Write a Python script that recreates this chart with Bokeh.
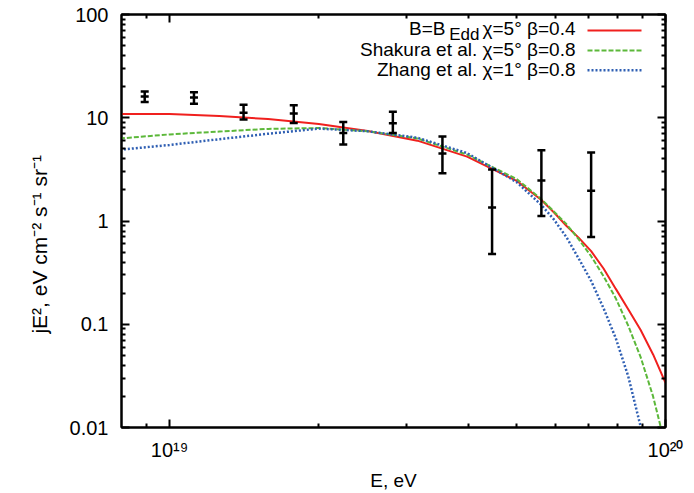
import numpy as np
from bokeh.plotting import figure
from bokeh.models import LogAxis, FixedTicker, CustomJSTickFormatter, Label, Range1d
from bokeh.embed import file_html
from bokeh.resources import INLINE

# ---- data ----
E_data = [8.91e18, 1.12e19, 1.41e19, 1.78e19, 2.24e19, 2.82e19, 3.55e19, 4.47e19, 5.62e19, 7.08e19]
J_data = [16.1, 15.7, 11.2, 11.0, 7.1, 8.85, 4.5, 1.35, 2.47, 1.96]
J_up = [18.0, 17.7, 13.4, 13.2, 9.1, 11.4, 6.6, 3.16, 4.85, 4.6]
J_lo = [14.2, 13.7, 9.6, 8.9, 5.5, 7.1, 2.9, 0.48, 1.12, 0.70]

E_model = [7.94e18, 1.00e19, 1.26e19, 1.58e19, 2.00e19, 2.51e19, 3.16e19, 3.98e19,
           5.01e19, 5.62e19, 5.96e19, 6.31e19, 6.68e19, 7.08e19, 7.50e19, 7.94e19,
           8.41e19, 8.91e19, 9.44e19, 1.00e20]
J_edd = [10.9, 10.9, 10.4, 9.7, 8.7, 7.45, 6.0, 4.2, 2.45, 1.6, 1.21, 0.90, 0.69, 0.51,
         0.347, 0.22, 0.14, 0.088, 0.051, 0.027]
J_shakura = [6.3, 6.9, 7.35, 7.8, 7.95, 7.4, 6.3, 4.4, 2.55, 1.63, 1.23, 0.935, 0.667, 0.456,
             0.292, 0.178, 0.097, 0.048, 0.020, 0.0066]
E_zhang = E_model[:18] + [9.12e19]
J_zhang = [4.9, 5.45, 6.2, 7.0, 7.85, 7.4, 6.4, 4.55, 2.38, 1.43, 1.03, 0.70, 0.435, 0.263,
           0.143, 0.073, 0.0314, 0.0102, 0.0075]

legend_labels = ["Shakura et al. \u03c7=5\u00b0 \u03b2=0.8", "Zhang et al. \u03c7=1\u00b0 \u03b2=0.8"]

x_major = [1e19, 1e20]
x_minor = [9e18] + [m * 1e19 for m in range(2, 10)]
y_major = [0.01, 0.1, 1, 10, 100]
y_minor = [m * d for d in (0.01, 0.1, 1, 10) for m in range(2, 10)]

X0, X1 = 8e18, 1e20
Y0, Y1 = 0.01, 100

# frame geometry (pixels)
W, H = 694, 493
FL, FR, FT, FB = 121, 665, 14, 428

RED = "#f0201e"
GREEN = "#5cb83a"
BLUE = "#2f5fb3"
FONT = "Liberation Sans"


def px2x(px):
    return 10 ** (np.log10(X0) + (px - FL) / (FR - FL) * (np.log10(X1) - np.log10(X0)))


def py2y(py):
    return 10 ** (np.log10(Y1) - (py - FT) / (FB - FT) * (np.log10(Y1) - np.log10(Y0)))


p = figure(width=W, height=H, x_axis_type="log", y_axis_type="log",
           x_range=Range1d(X0, X1), y_range=Range1d(Y0, Y1),
           output_backend="svg", toolbar_location=None,
           min_border_left=FL, min_border_right=W - FR,
           min_border_top=FT, min_border_bottom=H - FB)
p.background_fill_color = "white"
p.border_fill_color = "white"
p.grid.visible = False
p.outline_line_color = "black"
p.outline_line_width = 2

xticker = FixedTicker(ticks=x_major, minor_ticks=x_minor)
yticker = FixedTicker(ticks=y_major, minor_ticks=y_minor)

xfmt = CustomJSTickFormatter(code="""
const e = Math.round(Math.log10(tick));
const sup = {'0':'\u2070','1':'\u00b9','2':'\u00b2','3':'\u00b3','4':'\u2074','5':'\u2075','6':'\u2076','7':'\u2077','8':'\u2078','9':'\u2079','-':'\u207b'};
return '10' + String(e).split('').map(c => sup[c]).join('');
""")
yfmt = CustomJSTickFormatter(code="return String(Number(tick.toPrecision(3)));")
blankfmt = CustomJSTickFormatter(code="return '';")


def style_axis(ax):
    ax.axis_line_color = "black"
    ax.axis_line_width = 2
    ax.major_tick_in = 8
    ax.major_tick_out = 0
    ax.minor_tick_in = 4
    ax.minor_tick_out = 0
    ax.major_tick_line_width = 2
    ax.minor_tick_line_width = 2
    ax.major_tick_line_color = "black"
    ax.minor_tick_line_color = "black"
    ax.major_label_text_font = FONT
    ax.major_label_text_font_size = "20px"
    ax.major_label_text_color = "black"
    ax.axis_label_text_font = FONT
    ax.axis_label_text_font_size = "19px"
    ax.axis_label_text_font_style = "normal"
    ax.axis_label_text_color = "black"


xa = p.xaxis[0]
ya = p.yaxis[0]
xa.ticker = xticker
ya.ticker = yticker
xa.formatter = xfmt
ya.formatter = yfmt
style_axis(xa)
style_axis(ya)
xa.axis_label = "E, eV"
ya.axis_label = "jE\u00b2, eV cm\u207b\u00b2 s\u207b\u00b9 sr\u207b\u00b9" + "\u00a0" * 8
ya.axis_label_text_font_size = "21px"
xa.major_label_standoff = 11
ya.major_label_standoff = 13
xa.axis_label_standoff = 6
ya.axis_label_standoff = 16

top = LogAxis(ticker=xticker, formatter=blankfmt)
right = LogAxis(ticker=yticker, formatter=blankfmt)
for ax in (top, right):
    style_axis(ax)
    ax.major_label_standoff = 0
p.add_layout(top, "above")
p.add_layout(right, "right")

# model curves
p.line(E_model, J_edd, line_color=RED, line_width=2)
p.line(E_model, J_shakura, line_color=GREEN, line_width=2, line_dash="5 2")
p.line(E_zhang, J_zhang, line_color=BLUE, line_width=2.5, line_dash="2 2")

# data with error bars
p.segment(x0=E_data, y0=J_lo, x1=E_data, y1=J_up, line_color="black", line_width=2.5)
for yy in (J_up, J_lo, J_data):
    p.scatter(E_data, yy, marker="dash", size=8, line_color="black", line_width=2.5)

# legend (drawn by hand to allow the subscript)
p.line([px2x(587), px2x(641)], [py2y(30)] * 2, line_color=RED, line_width=2)
p.line([px2x(587), px2x(641)], [py2y(50)] * 2, line_color=GREEN, line_width=2, line_dash="5 2")
p.line([px2x(587), px2x(641)], [py2y(70)] * 2, line_color=BLUE, line_width=2.5, line_dash="2 2")


def lab(px, py, text, align="right", size="19px"):
    p.add_layout(Label(x=px2x(px), y=py2y(py), text=text, text_align=align,
                       text_baseline="middle", text_font=FONT,
                       text_font_size=size, text_color="black"))


lab(445, 28, "B=B")
lab(479, 34, "Edd", size="17px")
lab(575, 28, "\u03c7=5\u00b0 \u03b2=0.4")
lab(575, 49, legend_labels[0])
lab(575, 69, legend_labels[1])

open("out.html", "w").write(file_html(p, INLINE))
